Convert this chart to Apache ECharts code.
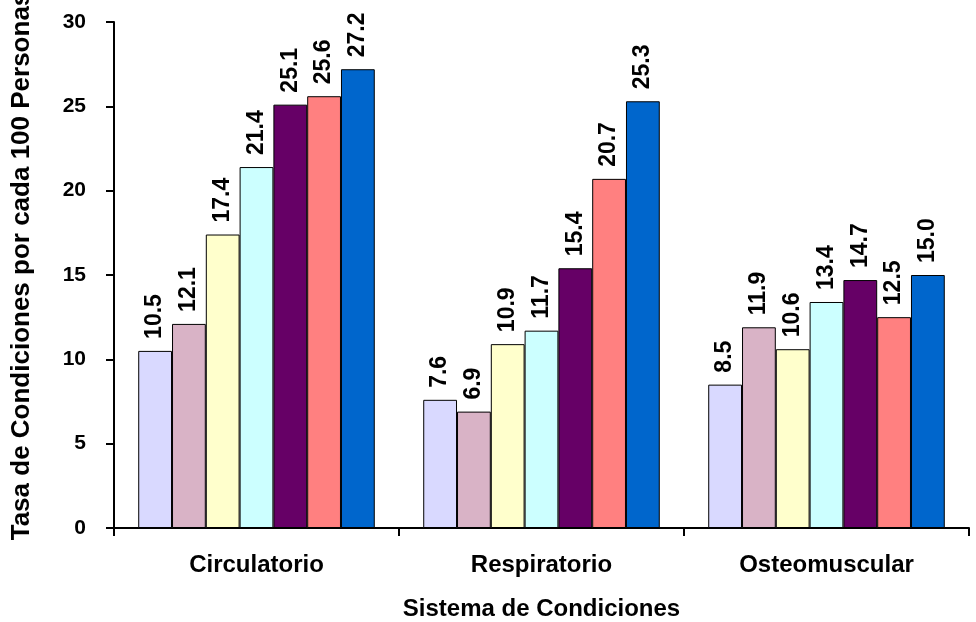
<!DOCTYPE html>
<html>
<head>
<meta charset="utf-8">
<script src="https://cdn.jsdelivr.net/npm/echarts@6/dist/echarts.min.js"></script>
<style>
html,body{margin:0;padding:0;background:#fff;}
#chart{width:976px;height:622px;}
</style>
</head>
<body>
<div id="chart"></div>
<script>
const categories = ['Circulatorio', 'Respiratorio', 'Osteomuscular'];
const seriesNames = ['Serie 1', 'Serie 2', 'Serie 3', 'Serie 4', 'Serie 5', 'Serie 6', 'Serie 7'];
const serie1 = [10.5, 7.6, 8.5];
const serie2 = [12.1, 6.9, 11.9];
const serie3 = [17.4, 10.9, 10.6];
const serie4 = [21.4, 11.7, 13.4];
const serie5 = [25.1, 15.4, 14.7];
const serie6 = [25.6, 20.7, 12.5];
const serie7 = [27.2, 25.3, 15.0];
const yTicks = [0, 5, 10, 15, 20, 25, 30];
const colors = ['#d9d9ff', '#d9b3c6', '#ffffcc', '#ccffff', '#660066', '#ff8080', '#0066cc'];
const allSeries = [serie1, serie2, serie3, serie4, serie5, serie6, serie7];

const FONT = '"Liberation Sans", Arial, sans-serif';
const chart = echarts.init(document.getElementById('chart'), null, {renderer: 'canvas'});
chart.setOption({
  animation: false,
  backgroundColor: '#ffffff',
  grid: {left: 114, right: 7, top: 22, bottom: 94, containLabel: false, outerBoundsMode: 'none'},
  xAxis: {
    type: 'category',
    data: categories,
    boundaryGap: true,
    axisLine: {lineStyle: {color: '#000', width: 2}},
    axisTick: {show: true, alignWithLabel: false, length: 8, inside: false, lineStyle: {color: '#000', width: 2}},
    axisLabel: {color: '#000', fontFamily: FONT, fontWeight: 'bold', fontSize: 24, margin: 25},
    name: 'Sistema de Condiciones',
    nameLocation: 'middle',
    nameGap: 69,
    nameTextStyle: {color: '#000', fontFamily: FONT, fontWeight: 'bold', fontSize: 24}
  },
  yAxis: {
    type: 'value',
    min: yTicks[0],
    max: yTicks[yTicks.length - 1],
    interval: 5,
    splitLine: {show: false},
    axisLine: {show: true, lineStyle: {color: '#000', width: 2}},
    axisTick: {show: true, length: 8, lineStyle: {color: '#000', width: 2}},
    axisLabel: {color: '#000', fontFamily: FONT, fontWeight: 'bold', fontSize: 21, margin: 28},
    name: 'Tasa de Condiciones por cada 100 Personas',
    nameLocation: 'middle',
    nameGap: 79,
    nameRotate: 90,
    nameTextStyle: {color: '#000', fontFamily: FONT, fontWeight: 'bold', fontSize: 26, padding: [0, 0, 0, 18]}
  },
  series: allSeries.map((d, i) => ({
    name: seriesNames[i],
    type: 'bar',
    data: d,
    barGap: '0%',
    barCategoryGap: '17%',
    itemStyle: {color: colors[i], borderColor: '#000', borderWidth: 1},
    label: {
      show: true,
      position: 'top',
      rotate: 90,
      align: 'left',
      verticalAlign: 'middle',
      distance: 12,
      color: '#000',
      fontFamily: FONT,
      fontWeight: 'bold',
      fontSize: 23,
      formatter: p => p.value.toFixed(1)
    }
  }))
});
</script>
</body>
</html>
